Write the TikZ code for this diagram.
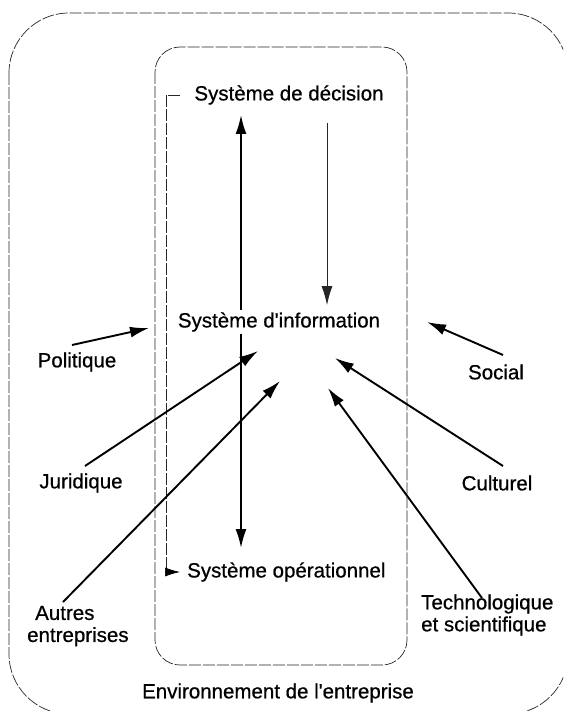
\documentclass[tikz,border=0pt]{standalone}
\usepackage{fontspec}
\newfontfamily\labfont[FakeBold=0.7]{Liberation Sans}
\usetikzlibrary{arrows.meta}
\begin{document}
\begin{tikzpicture}[x=1pt,y=-1pt,
  >={Latex[length=19pt,width=11pt]},
  lbl/.style={font=\labfont\fontsize{20.5}{22}\selectfont, inner sep=2pt},
  faint/.style={line width=0.7pt, black!85, dash pattern=on 12pt off 2pt},
  big/.style={line width=1.9pt, ->},
  slim/.style={line width=0.8pt, black!85, ->}]
\clip (0,0) rectangle (563,711);
\useasboundingbox (0,0) rectangle (563,711);
% boxes
\draw[faint, rounded corners=60pt] (9,13) rectangle (568,714);
\draw[faint, rounded corners=25pt] (155,47) rectangle (407,665);
% labels
\node[lbl] (dec) at (289,95) {Système de décision};
\node[lbl, anchor=west] (op) at (185,572) {Système opérationnel};
\node[lbl] (pol) at (77,362) {Politique};
\node[lbl] (soc) at (496,372) {Social};
\node[lbl] (jur) at (81,483) {Juridique};
\node[lbl] (cul) at (497,483) {Culturel};
\node[lbl, align=left, anchor=west] (aut) at (25,626) {\hspace*{8pt}Autres\\entreprises};
\node[lbl, align=left, anchor=west] (tech) at (419,615) {Technologique\\et scientifique};
\node[lbl] (env) at (278,693) {Environnement de l'entreprise};
% coordinates
\coordinate (dT) at (241,115);
\coordinate (dB) at (241,548);
\coordinate (dnS) at (327,123);
\coordinate (dnE) at (327,305);
\coordinate (br1) at (180,95);
\coordinate (br2) at (166,95);
\coordinate (br3) at (166,572);
\coordinate (brE) at (180,572);
\coordinate (polS) at (72,345);   \coordinate (polE) at (149,328);
\coordinate (socS) at (503,355);  \coordinate (socE) at (427,322);
\coordinate (jurS) at (85,466);   \coordinate (jurE) at (258,351);
\coordinate (autS) at (63,602);   \coordinate (autE) at (280,381);
\coordinate (culS) at (503,466);  \coordinate (culE) at (335,358);
\coordinate (tecS) at (482,598);  \coordinate (tecE) at (328,388);
% vertical double arrow, broken by the information label
\draw[line width=1.9pt, <->] (dT) -- (dB);
\node[lbl, fill=white] (inf) at (279,322) {Système d'information};
% decision to information
\draw[slim] (dnS) -- (dnE);
% bracket to operational system
\draw[faint] (br1) -- (br2) -- (br3);
\draw[line width=0.7pt, {Latex[length=15pt,width=9pt]}-] (brE) -- (br3);
% environment influences
\draw[big] (polS) -- (polE);
\draw[big] (socS) -- (socE);
\draw[big] (jurS) -- (jurE);
\draw[big] (autS) -- (autE);
\draw[big] (culS) -- (culE);
\draw[big] (tecS) -- (tecE);
\end{tikzpicture}
\end{document}
